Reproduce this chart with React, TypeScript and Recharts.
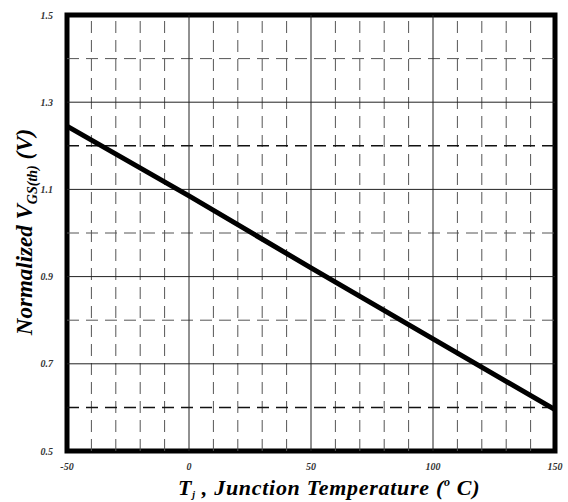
import React from "react";
import { LineChart, Line, XAxis, YAxis, ReferenceLine, ReferenceArea } from "recharts";

// normalized gate threshold voltage vs junction temperature
const temps = [-50, 0, 50, 100, 150];
const vgsNorm = [1.245, 1.085, 0.92, 0.757, 0.595];

const xTicks = [-50, 0, 50, 100, 150];
const yTicks = [0.5, 0.7, 0.9, 1.1, 1.3, 1.5];

// grid lines
const xMajor = [0, 50, 100];
const xMinor = [-40, -30, -20, -10, 10, 20, 30, 40, 60, 70, 80, 90, 110, 120, 130, 140];
const yMajor = [0.7, 0.9, 1.1, 1.3];
const yMinorDark = [0.6, 1.2];
const yMinor = [0.8, 1.0, 1.4];

const data = temps.map((t, i) => ({ t, v: vgsNorm[i] }));

const font = "'Liberation Serif', 'Times New Roman', serif";
const tickStyle = { fontFamily: font, fontStyle: "italic", fontWeight: 700, fontSize: 10, fill: "#333" };

const XLabel = () => (
  <text
    x={178}
    y={495}
    fontFamily={font}
    fontStyle="italic"
    fontWeight={700}
    fontSize={22}
    letterSpacing={0.7}
    fill="#000"
  >
    T<tspan fontSize={10} dy={3}>j</tspan>
    <tspan dy={-3}> , Junction Temperature (</tspan>
    <tspan fontSize={12} dy={-9}>o</tspan>
    <tspan dy={9}> C)</tspan>
  </text>
);

const YLabel = () => (
  <text
    x={32}
    y={232}
    transform="rotate(-90, 32, 232)"
    textAnchor="middle"
    fontFamily={font}
    fontStyle="italic"
    fontWeight={700}
    fontSize={23}
    fill="#000"
  >
    Normalized V<tspan fontSize={14} dy={5}>GS(th)</tspan>
    <tspan dy={-5}> (V)</tspan>
  </text>
);

export default function App() {
  return (
    <div style={{ position: "absolute", left: 0, top: 0, background: "#fff" }}>
      <LineChart width={568} height={502} data={data} margin={{ top: 15, right: 13, bottom: 21, left: 0 }}>
        <XAxis
          dataKey="t"
          type="number"
          domain={[-50, 150]}
          ticks={xTicks}
          axisLine={false}
          tickLine={false}
          tick={tickStyle}
          tickMargin={6}
          interval={0}
        />
        <YAxis
          type="number"
          domain={[0.5, 1.5]}
          ticks={yTicks}
          width={67}
          axisLine={false}
          tickLine={false}
          tick={tickStyle}
          tickMargin={8}
          tickFormatter={(v: number) => v.toFixed(1)}
          interval={0}
        />
        {xMinor.map((x) => (
          <ReferenceLine key={"xm" + x} x={x} stroke="#555" strokeWidth={1} strokeDasharray="12 7" />
        ))}
        {yMinor.map((y) => (
          <ReferenceLine key={"ym" + y} y={y} stroke="#555" strokeWidth={1} strokeDasharray="12 7" />
        ))}
        {yMinorDark.map((y) => (
          <ReferenceLine key={"yd" + y} y={y} stroke="#111" strokeWidth={1.5} strokeDasharray="12 7" />
        ))}
        {xMajor.map((x) => (
          <ReferenceLine key={"xM" + x} x={x} stroke="#222" strokeWidth={1} />
        ))}
        {yMajor.map((y) => (
          <ReferenceLine key={"yM" + y} y={y} stroke="#222" strokeWidth={1} />
        ))}
        <Line
          type="linear"
          dataKey="v"
          stroke="#000"
          strokeWidth={5}
          dot={false}
          isAnimationActive={false}
        />
        <ReferenceArea x1={-50} x2={150} y1={0.5} y2={1.5} fill="none" stroke="#000" strokeWidth={5} />
        <XLabel />
        <YLabel />
      </LineChart>
    </div>
  );
}
